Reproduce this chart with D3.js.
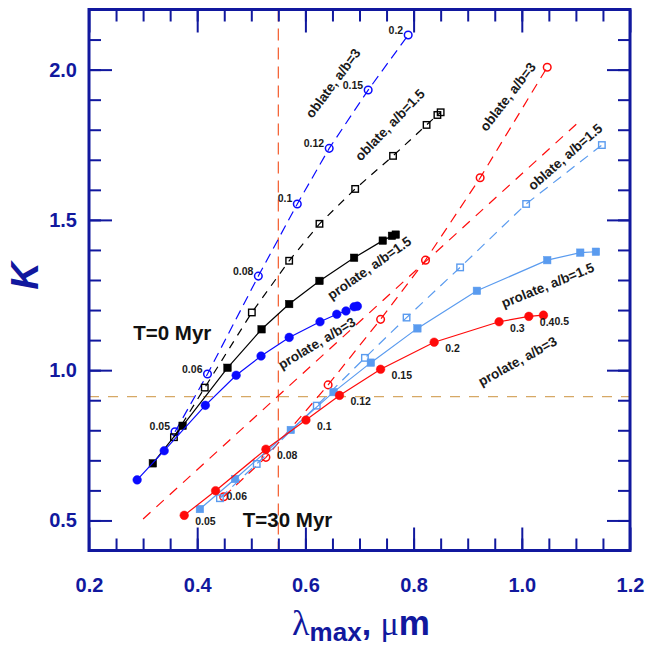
<!DOCTYPE html>
<html lang="en">
<head>
    <meta charset="UTF-8">
    <title>K vs lambda max</title>
    <script src="https://d3js.org/d3.v7.min.js"></script>
    <style>
        body { margin: 0; background: #fff; }
        text { font-family: "Liberation Sans", Arial, sans-serif; font-weight: bold; }
    </style>
</head>
<body>
<script>
    const width  = 648;
    const height = 647;
    const margin = {left: 89, top: 9.5, right: 18, bottom: 96.5};

    // axis ticks
    const xMajorTicks = [0.2, 0.4, 0.6, 0.8, 1.0, 1.2];
    const yMajorTicks = [0.5, 1.0, 1.5, 2.0];

    // size labels along the curves
    const sizesT0  = ["0.05", "0.06", "0.08", "0.1", "0.12", "0.15", "0.2"];
    const sizesT30 = ["0.05", "0.06", "0.08", "0.1", "0.12", "0.15", "0.2", "0.3", "0.4", "0.5"];

    // T = 0 Myr
    const oblate3T0Lambda = [0.359, 0.419, 0.513, 0.585, 0.644, 0.716, 0.790];
    const oblate3T0K      = [0.795, 0.987, 1.313, 1.553, 1.738, 1.932, 2.115];

    const oblate15T0Lambda = [0.357, 0.414, 0.501, 0.570, 0.626, 0.692, 0.762, 0.824, 0.844, 0.850];
    const oblate15T0K      = [0.777, 0.942, 1.192, 1.364, 1.487, 1.603, 1.713, 1.816, 1.849, 1.858];

    const prolate15T0Lambda = [0.318, 0.373, 0.456, 0.519, 0.570, 0.626, 0.690, 0.743, 0.760, 0.767];
    const prolate15T0K      = [0.690, 0.815, 1.008, 1.136, 1.220, 1.297, 1.374, 1.431, 1.447, 1.451];

    const prolate3T0Lambda = [0.289, 0.339, 0.415, 0.472, 0.518, 0.570, 0.627, 0.658, 0.675, 0.690, 0.696];
    const prolate3T0K      = [0.635, 0.732, 0.883, 0.983, 1.047, 1.109, 1.161, 1.186, 1.197, 1.211, 1.213];

    // T = 30 Myr
    const oblate3T30Lambda = [0.449, 0.527, 0.642, 0.739, 0.822, 0.923, 1.047];
    const oblate3T30K      = [0.579, 0.710, 0.951, 1.169, 1.366, 1.640, 2.008];

    const oblate15T30Lambda = [0.442, 0.510, 0.621, 0.710, 0.787, 0.886, 1.008, 1.148];
    const oblate15T30K      = [0.574, 0.688, 0.882, 1.041, 1.175, 1.342, 1.553, 1.749];

    const prolate15T30Lambda = [0.405, 0.470, 0.573, 0.652, 0.721, 0.807, 0.917, 1.047, 1.108, 1.137];
    const prolate15T30K      = [0.538, 0.638, 0.801, 0.927, 1.025, 1.139, 1.264, 1.366, 1.391, 1.394];

    const prolate3T30Lambda = [0.376, 0.434, 0.527, 0.601, 0.663, 0.739, 0.838, 0.958, 1.013, 1.040];
    const prolate3T30K      = [0.517, 0.599, 0.737, 0.834, 0.916, 1.003, 1.093, 1.161, 1.179, 1.183];

    // straight red dashed line without markers
    const refLineLambda = [0.300, 1.103];
    const refLineK      = [0.505, 1.822];

    // reference levels
    const lambdaRef = 0.55;
    const kRef = 0.912;

    const axisColor = "#11189e";
    const blue = "#0a0aff", red = "#ff0a0a", lightBlue = "#5a9bef";

    const x = d3.scaleLinear().domain([0.2, 1.2]).range([margin.left, width - margin.right]);
    const y = d3.scaleLinear().domain([0.4, 2.2]).range([height - margin.bottom, margin.top]);

    const svg = d3.select("body").append("svg").attr("width", width).attr("height", height);

    // reference dashed lines
    svg.append("line")
       .attr("x1", x(0.2)).attr("x2", x(1.2)).attr("y1", y(kRef)).attr("y2", y(kRef))
       .attr("stroke", "#d6a865").attr("stroke-width", 1.3).attr("stroke-dasharray", "10,9");
    svg.append("line")
       .attr("x1", x(lambdaRef)).attr("x2", x(lambdaRef)).attr("y1", y(2.2)).attr("y2", y(0.4))
       .attr("stroke", "#f4663a").attr("stroke-width", 1.3).attr("stroke-dasharray", "12,7");

    const line = d3.line().x(d => x(d[0])).y(d => y(d[1]));
    const zip = (a, b) => a.map((v, i) => [v, b[i]]);

    svg.append("path")
       .attr("d", line(zip(refLineLambda, refLineK)))
       .attr("fill", "none").attr("stroke", red).attr("stroke-width", 1.2)
       .attr("stroke-dasharray", "10,8");

    const series = [
        {xs: oblate3T0Lambda,    ks: oblate3T0K,    color: blue,      dash: "10,6", marker: "circle", filled: false},
        {xs: oblate15T0Lambda,   ks: oblate15T0K,   color: "#000",    dash: "8,7",  marker: "square", filled: false},
        {xs: prolate15T0Lambda,  ks: prolate15T0K,  color: "#000",    dash: null,   marker: "square", filled: true},
        {xs: prolate3T0Lambda,   ks: prolate3T0K,   color: blue,      dash: null,   marker: "circle", filled: true},
        {xs: oblate3T30Lambda,   ks: oblate3T30K,   color: red,       dash: "10,7", marker: "circle", filled: false},
        {xs: oblate15T30Lambda,  ks: oblate15T30K,  color: lightBlue, dash: "10,7", marker: "square", filled: false},
        {xs: prolate15T30Lambda, ks: prolate15T30K, color: lightBlue, dash: null,   marker: "square", filled: true},
        {xs: prolate3T30Lambda,  ks: prolate3T30K,  color: red,       dash: null,   marker: "circle", filled: true}
    ];

    series.forEach(s => {
        const pts = zip(s.xs, s.ks);
        const g = svg.append("g");
        g.append("path")
         .attr("d", line(pts))
         .attr("fill", "none").attr("stroke", s.color).attr("stroke-width", 1.2)
         .attr("stroke-dasharray", s.dash);
        if (s.marker === "circle") {
            g.selectAll("circle").data(pts).join("circle")
             .attr("cx", d => x(d[0])).attr("cy", d => y(d[1]))
             .attr("r", s.filled ? 4.3 : 3.8)
             .attr("fill", s.filled ? s.color : "none")
             .attr("stroke", s.color).attr("stroke-width", s.filled ? 0.5 : 1.5);
        } else {
            const a = s.filled ? 7.5 : 6.5;
            g.selectAll("rect").data(pts).join("rect")
             .attr("x", d => x(d[0]) - a / 2).attr("y", d => y(d[1]) - a / 2)
             .attr("width", a).attr("height", a)
             .attr("fill", s.filled ? s.color : "none")
             .attr("stroke", s.color).attr("stroke-width", s.filled ? 0.5 : 1.4);
        }
    });

    // size labels
    svg.append("g").selectAll("text")
       .data(sizesT0.map((t, i) => [oblate3T0Lambda[i], oblate3T0K[i], t]))
       .join("text")
       .attr("x", d => x(d[0]) - 5).attr("y", d => y(d[1]) - 1.5)
       .attr("text-anchor", "end").attr("font-size", 10.5).attr("fill", "#1a1a1a")
       .text(d => d[2]);

    svg.append("g").selectAll("text")
       .data(sizesT30.map((t, i) => [prolate3T30Lambda[i], prolate3T30K[i], t]))
       .join("text")
       .attr("x", d => x(d[0]) + 11).attr("y", d => y(d[1]) + 9.8)
       .attr("font-size", 10.5).attr("fill", "#1a1a1a")
       .text(d => d[2]);

    // curve names
    const curveNames = [
        {text: "oblate, a/b=3",    at: [0.651, 1.955], angle: -53.5},
        {text: "oblate, a/b=1.5",  at: [0.756, 1.816], angle: -46},
        {text: "prolate, a/b=1.5", at: [0.718, 1.340], angle: -35},
        {text: "prolate, a/b=3",   at: [0.621, 1.090], angle: -31},
        {text: "oblate, a/b=3",    at: [0.974, 1.910], angle: -52.5},
        {text: "oblate, a/b=1.5",  at: [1.080, 1.710], angle: -41},
        {text: "prolate, a/b=1.5", at: [1.048, 1.283], angle: -22},
        {text: "prolate, a/b=3",   at: [0.992, 1.030], angle: -29}
    ];
    svg.append("g").selectAll("text").data(curveNames).join("text")
       .attr("transform", d => `translate(${x(d.at[0])},${y(d.at[1])}) rotate(${d.angle})`)
       .attr("text-anchor", "middle").attr("dy", "0.35em")
       .attr("font-size", 13.5).attr("fill", "#1a1a1a")
       .text(d => d.text);

    const epochs = [
        {text: "T=0 Myr",  at: [0.354, 1.125]},
        {text: "T=30 Myr", at: [0.567, 0.504]}
    ];
    svg.append("g").selectAll("text").data(epochs).join("text")
       .attr("x", d => x(d.at[0])).attr("y", d => y(d.at[1]))
       .attr("text-anchor", "middle").attr("dy", "0.36em")
       .attr("font-size", 20.5).attr("fill", "#111")
       .text(d => d.text);

    // axes, ticks pointing inward on all four sides
    const xMinor = d3.range(0.25, 1.2, 0.05).map(v => +v.toFixed(2));
    const yMinor = d3.range(0.5, 2.2, 0.1).map(v => +v.toFixed(1));
    const fmt = d3.format(".1f");

    const axes = [
        [d3.axisBottom(x).tickValues(xMajorTicks).tickSize(-23).tickPadding(27).tickFormat(fmt), `translate(0,${y(0.4)})`],
        [d3.axisBottom(x).tickValues(xMinor).tickSize(-12).tickFormat(""), `translate(0,${y(0.4)})`],
        [d3.axisTop(x).tickValues(xMajorTicks).tickSize(-23).tickFormat(""), `translate(0,${y(2.2)})`],
        [d3.axisTop(x).tickValues(xMinor).tickSize(-12).tickFormat(""), `translate(0,${y(2.2)})`],
        [d3.axisLeft(y).tickValues(yMajorTicks).tickSize(-23).tickPadding(12).tickFormat(fmt), `translate(${x(0.2)},0)`],
        [d3.axisLeft(y).tickValues(yMinor).tickSize(-12).tickFormat(""), `translate(${x(0.2)},0)`],
        [d3.axisRight(y).tickValues(yMajorTicks).tickSize(-23).tickFormat(""), `translate(${x(1.2)},0)`],
        [d3.axisRight(y).tickValues(yMinor).tickSize(-12).tickFormat(""), `translate(${x(1.2)},0)`]
    ];
    axes.forEach(([ax, tr]) => {
        const g = svg.append("g").attr("transform", tr).call(ax);
        g.select(".domain").remove();
        g.selectAll("line").attr("stroke", axisColor).attr("stroke-width", 2);
        g.selectAll("text").attr("fill", axisColor).attr("font-size", 20)
         .attr("font-family", "Liberation Sans, Arial, sans-serif").attr("font-weight", "bold");
    });

    svg.append("rect")
       .attr("x", x(0.2)).attr("y", y(2.2))
       .attr("width", x(1.2) - x(0.2)).attr("height", y(0.4) - y(2.2))
       .attr("fill", "none").attr("stroke", axisColor).attr("stroke-width", 3);

    // axis titles
    const xTitle = svg.append("text")
       .attr("x", 361).attr("y", 635).attr("text-anchor", "middle").attr("fill", axisColor);
    xTitle.append("tspan").attr("font-family", "Liberation Serif, serif").attr("font-weight", "normal")
          .attr("font-size", 36).text("λ");
    xTitle.append("tspan").attr("font-size", 26).attr("dy", 6).text("max");
    xTitle.append("tspan").attr("font-size", 34).attr("dy", -6).text(", ");
    xTitle.append("tspan").attr("font-family", "Liberation Serif, serif").attr("font-weight", "normal")
          .attr("font-size", 34).text("μ");
    xTitle.append("tspan").attr("font-size", 35).text("m");

    svg.append("text")
       .attr("transform", "translate(38,276) rotate(-90)")
       .attr("text-anchor", "middle").attr("font-size", 38).attr("font-style", "italic")
       .attr("fill", axisColor).text("K");
</script>
</body>
</html>
